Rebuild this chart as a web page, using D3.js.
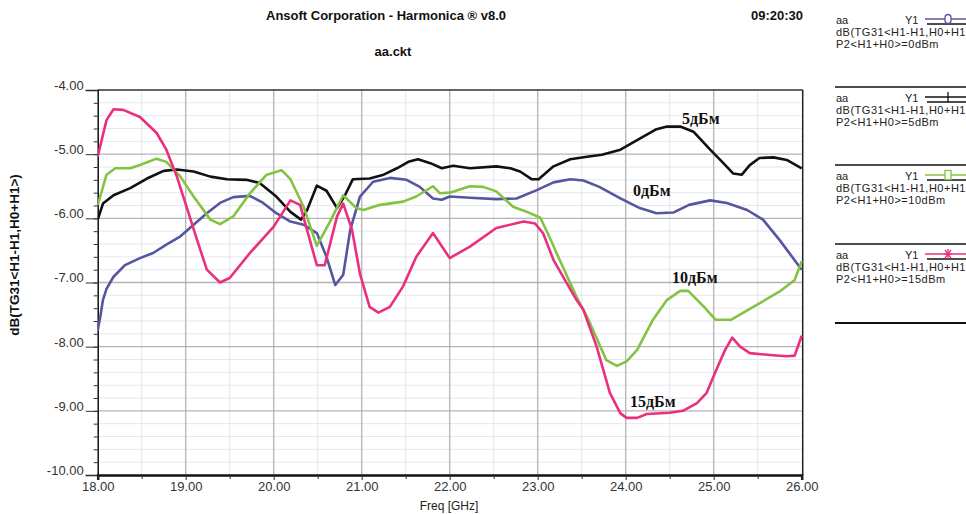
<!DOCTYPE html>
<html><head><meta charset="utf-8">
<script src="https://cdn.jsdelivr.net/npm/d3@7"></script>
<style>body{margin:0;background:#fff}svg{display:block}svg{font-family:"Liberation Sans",Arial,sans-serif}</style>
</head><body><svg id="c" width="966" height="514"></svg>
<script>
const xTicks = [18,19,20,21,22,23,24,25,26];
const yTicks = [-4,-5,-6,-7,-8,-9,-10];
const seriesNames = ["P2<H1+H0>=0dBm","P2<H1+H0>=5dBm","P2<H1+H0>=10dBm","P2<H1+H0>=15dBm"];
const curveLabels = ["0дБм","5дБм","10дБм","15дБм"];
const f0 = [18.0,18.03,18.06,18.10,18.18,18.31,18.48,18.63,18.78,18.94,19.09,19.24,19.39,19.54,19.73,19.88,20.03,20.19,20.34,20.49,20.60,20.70,20.79,20.87,20.98,21.13,21.32,21.51,21.66,21.81,21.91,22.0,22.23,22.53,22.76,22.99,23.18,23.37,23.52,23.70,23.94,24.16,24.35,24.54,24.72,24.96,25.15,25.38,25.56,25.75,26.0];
const v0 = [-7.75,-7.53,-7.27,-7.10,-6.91,-6.73,-6.62,-6.54,-6.41,-6.28,-6.10,-5.92,-5.76,-5.67,-5.65,-5.76,-5.92,-6.05,-6.10,-6.23,-6.60,-7.04,-6.88,-6.18,-5.66,-5.43,-5.37,-5.40,-5.51,-5.69,-5.71,-5.66,-5.68,-5.70,-5.69,-5.56,-5.44,-5.39,-5.41,-5.51,-5.69,-5.84,-5.92,-5.91,-5.79,-5.72,-5.76,-5.87,-6.02,-6.34,-6.80];
const f5 = [18.0,18.06,18.18,18.37,18.56,18.75,18.90,19.09,19.28,19.47,19.69,19.84,20.03,20.19,20.31,20.38,20.49,20.60,20.72,20.81,20.90,21.09,21.25,21.40,21.53,21.64,21.78,21.91,22.04,22.23,22.53,22.69,22.80,22.93,23.01,23.18,23.37,23.56,23.73,23.94,24.13,24.35,24.47,24.62,24.77,24.96,25.11,25.22,25.32,25.41,25.52,25.68,25.83,26.0];
const v5 = [-6.02,-5.77,-5.64,-5.53,-5.38,-5.26,-5.24,-5.27,-5.35,-5.39,-5.40,-5.45,-5.66,-5.90,-6.02,-5.87,-5.49,-5.57,-5.84,-5.64,-5.39,-5.38,-5.32,-5.22,-5.12,-5.08,-5.14,-5.22,-5.18,-5.22,-5.19,-5.22,-5.27,-5.39,-5.39,-5.19,-5.08,-5.04,-5.01,-4.93,-4.78,-4.61,-4.57,-4.57,-4.65,-4.93,-5.14,-5.30,-5.32,-5.17,-5.06,-5.05,-5.09,-5.22];
const f10 = [18.0,18.05,18.10,18.20,18.37,18.48,18.67,18.78,18.94,19.09,19.28,19.39,19.54,19.73,19.92,20.09,20.19,20.34,20.49,20.64,20.79,20.94,21.02,21.21,21.47,21.62,21.81,21.89,22.0,22.23,22.38,22.53,22.72,22.88,23.03,23.14,23.25,23.44,23.56,23.78,23.90,24.01,24.13,24.31,24.47,24.62,24.71,24.89,25.02,25.20,25.45,25.75,25.92,26.0];
const v10 = [-5.79,-5.56,-5.32,-5.22,-5.22,-5.17,-5.07,-5.12,-5.35,-5.66,-6.02,-6.09,-5.97,-5.61,-5.32,-5.25,-5.39,-5.82,-6.43,-6.05,-5.64,-5.84,-5.87,-5.79,-5.74,-5.66,-5.50,-5.61,-5.60,-5.50,-5.51,-5.58,-5.82,-5.90,-5.99,-6.31,-6.65,-7.22,-7.53,-8.21,-8.30,-8.23,-8.05,-7.58,-7.27,-7.13,-7.13,-7.38,-7.58,-7.58,-7.38,-7.14,-6.96,-6.67];
const f15 = [18.0,18.10,18.18,18.29,18.48,18.67,18.78,18.90,19.01,19.13,19.24,19.39,19.50,19.73,20.0,20.19,20.30,20.49,20.58,20.72,20.79,20.89,20.98,21.09,21.19,21.32,21.47,21.62,21.81,22.0,22.23,22.53,22.84,22.97,23.06,23.18,23.44,23.52,23.67,23.82,23.94,24.01,24.13,24.24,24.50,24.65,24.81,24.92,25.03,25.13,25.21,25.30,25.41,25.64,25.83,25.92,26.0];
const v15 = [-5.04,-4.47,-4.30,-4.31,-4.42,-4.67,-4.93,-5.35,-5.82,-6.34,-6.80,-7.00,-6.93,-6.54,-6.13,-5.72,-5.79,-6.73,-6.73,-5.97,-5.77,-6.18,-6.86,-7.38,-7.47,-7.38,-7.06,-6.60,-6.23,-6.62,-6.44,-6.15,-6.05,-6.08,-6.23,-6.65,-7.27,-7.43,-8.00,-8.72,-9.04,-9.11,-9.11,-9.05,-9.03,-9.00,-8.88,-8.72,-8.36,-8.05,-7.86,-8.00,-8.10,-8.13,-8.15,-8.14,-7.83];

const colors = ["#5656a0","#111111","#84c341","#ea2f7f"];
const markers = ["circle","plus","square","star"];
const series = [[f0,v0],[f5,v5],[f10,v10],[f15,v15]].map(([f,v],i)=>({name:seriesNames[i],color:colors[i],marker:markers[i],pts:f.map((d,j)=>[d,v[j]])}));
const labelPos = [[633,196],[682,124],[672,283],[630,407]];

const svg = d3.select("#c");
const L=97.7, R=801.7, T=90, B=475;
const x = d3.scaleLinear().domain([18,26]).range([L,R]);
const y = d3.scaleLinear().domain([-10,-4]).range([B,T]);
const fmt = d => d.toFixed(2);

// titles
svg.append("text").attr("x",386).attr("y",20).attr("text-anchor","middle").attr("font-size",13).attr("font-weight","bold").attr("fill","#111").text("Ansoft Corporation - Harmonica ® v8.0");
svg.append("text").attr("x",803).attr("y",20).attr("text-anchor","end").attr("font-size",13).attr("font-weight","bold").attr("fill","#111").text("09:20:30");
svg.append("text").attr("x",393).attr("y",56).attr("text-anchor","middle").attr("font-size",13).attr("font-weight","bold").attr("fill","#111").text("aa.ckt");

// minor grid
const g = svg.append("g");
g.selectAll(".mgx").data(d3.range(18.5,26,1)).join("line").attr("x1",d=>x(d)).attr("x2",d=>x(d)).attr("y1",T).attr("y2",B).attr("stroke","#e6e6ee").attr("stroke-width",1);
g.selectAll(".mgy").data(d3.range(-9.8,-4,0.2).filter(d=>Math.abs(d-Math.round(d))>0.01)).join("line").attr("x1",L).attr("x2",R).attr("y1",d=>y(d)).attr("y2",d=>y(d)).attr("stroke","#e6e6ee").attr("stroke-width",1);
// major grid
g.selectAll(".Mgx").data(xTicks.slice(1,-1)).join("line").attr("x1",d=>x(d)).attr("x2",d=>x(d)).attr("y1",T).attr("y2",B).attr("stroke","#b4b4b4").attr("stroke-width",1.3);
g.selectAll(".Mgy").data(yTicks.slice(1,-1)).join("line").attr("x1",L).attr("x2",R).attr("y1",d=>y(d)).attr("y2",d=>y(d)).attr("stroke","#b4b4b4").attr("stroke-width",1.3);

// frame
svg.append("line").attr("x1",L).attr("x2",R+1).attr("y1",T).attr("y2",T).attr("stroke","#333").attr("stroke-width",1.3);
svg.append("line").attr("x1",R+1).attr("x2",R+1).attr("y1",T).attr("y2",B).attr("stroke","#222").attr("stroke-width",1.5);

// y axis
const yAxis = d3.axisLeft(y).tickValues(yTicks).tickSize(12).tickFormat(fmt);
const ya = svg.append("g").attr("transform",`translate(${L},0)`).call(yAxis);
ya.select(".domain").attr("stroke","#111").attr("stroke-width",1.5);
ya.selectAll(".tick line").attr("stroke","#333");
ya.selectAll(".tick text").attr("font-size",13).attr("fill","#333").style("font-family","'Liberation Sans', Arial, sans-serif").attr("dy","-0.05em").attr("x",-14);
const yMinor = d3.axisLeft(y).tickValues(d3.range(-9.8,-4,0.2)).tickSize(4).tickFormat("");
const ym = svg.append("g").attr("transform",`translate(${L},0)`).call(yMinor);
ym.select(".domain").remove(); ym.selectAll(".tick line").attr("stroke","#333");

// x axis
const xAxis = d3.axisBottom(x).tickValues(xTicks).tickSize(5).tickFormat(fmt);
const xa = svg.append("g").attr("transform",`translate(0,${B})`).call(xAxis);
xa.select(".domain").attr("stroke","#111").attr("stroke-width",2.5);
xa.selectAll(".tick line").attr("stroke","#333");
xa.selectAll(".tick text").attr("font-size",13).attr("fill","#333").style("font-family","'Liberation Sans', Arial, sans-serif").attr("y",7);
const xMinor = d3.axisBottom(x).tickValues(d3.range(18.5,26,1)).tickSize(4).tickFormat("");
const xm = svg.append("g").attr("transform",`translate(0,${B})`).call(xMinor);
xm.select(".domain").remove(); xm.selectAll(".tick line").attr("stroke","#333");

svg.append("text").attr("transform","translate(19,255) rotate(-90)").attr("text-anchor","middle").attr("font-size",13.5).attr("font-weight","bold").attr("fill","#111").text("dB(TG31<H1-H1,H0+H1>)");
svg.append("text").attr("x",449).attr("y",510).attr("text-anchor","middle").attr("font-size",12).attr("fill","#222").text("Freq [GHz]");

// lines
svg.append("clipPath").attr("id","cp").append("rect").attr("x",L).attr("y",T-2).attr("width",R-L+2).attr("height",B-T+2);
const line = d3.line().x(d=>x(d[0])).y(d=>y(d[1]));
svg.append("g").attr("clip-path","url(#cp)").selectAll("path").data(series).join("path")
  .attr("d",d=>line(d.pts)).attr("fill","none").attr("stroke",d=>d.color).attr("stroke-width",2.6).attr("stroke-linejoin","round");

// curve labels
svg.selectAll(".cl").data(curveLabels).join("text").attr("x",(d,i)=>labelPos[i][0]).attr("y",(d,i)=>labelPos[i][1])
  .style("font-family","'Liberation Serif', 'Times New Roman', serif").attr("font-weight","bold").attr("font-size",16).attr("fill","#111").text(d=>d);

// legend
const lg = svg.append("g");
const tops = [10,88,166,245];
series.forEach((s,i)=>{
  const t = tops[i];
  if(i>0) lg.append("line").attr("x1",835).attr("x2",966).attr("y1",t-1).attr("y2",t-1).attr("stroke","#111").attr("stroke-width",1.3);
  lg.append("text").attr("x",836).attr("y",t+14).attr("font-size",11).attr("fill","#222").text("aa");
  lg.append("text").attr("x",905).attr("y",t+14).attr("font-size",11).attr("fill","#222").text("Y1");
  lg.append("line").attr("x1",925).attr("x2",966).attr("y1",t+9).attr("y2",t+9).attr("stroke",s.color).attr("stroke-width",1.3);
  lg.append("line").attr("x1",927).attr("x2",966).attr("y1",t+14).attr("y2",t+14).attr("stroke","#111").attr("stroke-width",1.6);
  const mx=948, my=t+9;
  if(s.marker==="circle") lg.append("rect").attr("x",mx-3).attr("y",my-4.5).attr("width",6).attr("height",9).attr("rx",3).attr("fill","#fff").attr("stroke",s.color).attr("stroke-width",1.3);
  if(s.marker==="plus") lg.append("line").attr("x1",mx).attr("x2",mx).attr("y1",my-5).attr("y2",my+5).attr("stroke",s.color).attr("stroke-width",1.3);
  if(s.marker==="square") lg.append("rect").attr("x",mx-3).attr("y",my-4.5).attr("width",6).attr("height",9).attr("fill","#fff").attr("stroke",s.color).attr("stroke-width",1.3);
  if(s.marker==="star"){ [[0,-5,0,5],[-3,-4,3,4],[-3,4,3,-4],[-4,0,4,0]].forEach(a=>lg.append("line").attr("x1",mx+a[0]).attr("y1",my+a[1]).attr("x2",mx+a[2]).attr("y2",my+a[3]).attr("stroke",s.color).attr("stroke-width",1.3)); }
  lg.append("text").attr("x",836).attr("y",t+26).attr("font-size",11).attr("letter-spacing","0.5px").attr("fill","#222").text("dB(TG31<H1-H1,H0+H1");
  lg.append("text").attr("x",836).attr("y",t+38).attr("font-size",11).attr("letter-spacing","0.5px").attr("fill","#222").text(s.name);
});
lg.append("line").attr("x1",835).attr("x2",966).attr("y1",323).attr("y2",323).attr("stroke","#111").attr("stroke-width",1.8);
</script></body></html>
